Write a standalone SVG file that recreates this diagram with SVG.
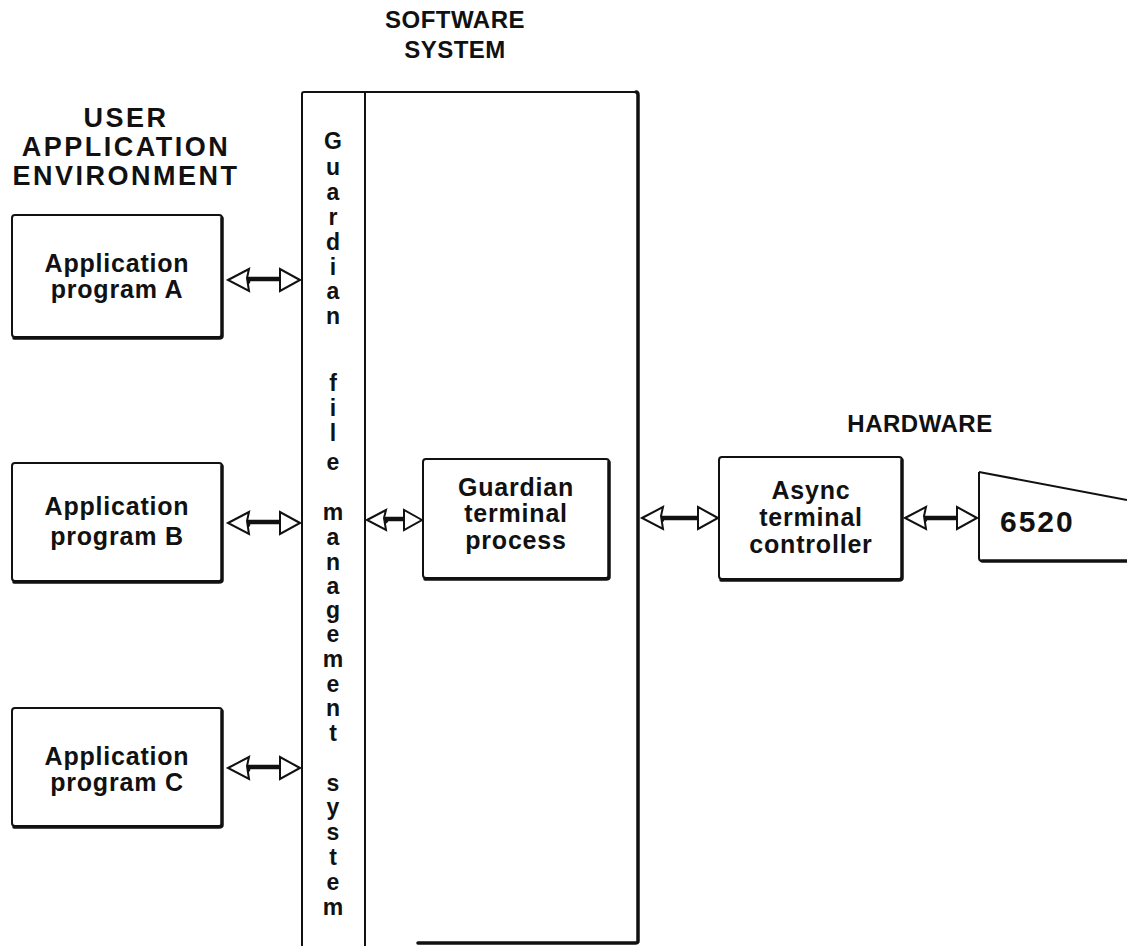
<svg xmlns="http://www.w3.org/2000/svg" width="1127" height="946" viewBox="0 0 1127 946">
<style>
text{font-family:"Liberation Sans",Arial,sans-serif;font-weight:bold;fill:#111}
.h{font-size:24px;letter-spacing:0.5px;text-anchor:middle}
.u{font-size:27px;letter-spacing:2.5px;text-anchor:middle}
.t{font-size:25px;letter-spacing:0.8px;text-anchor:middle}
.v{font-size:23px;text-anchor:middle}
.box{fill:#fff;stroke:#111;stroke-width:2}
.sh{fill:none;stroke:#111;stroke-width:3.5;stroke-linecap:round}
.ln{fill:none;stroke:#111;stroke-width:2}
.head{fill:#fff;stroke:#111;stroke-width:2;stroke-linejoin:miter}
.shaft{fill:none;stroke:#111;stroke-width:4.5;stroke-linejoin:round}
</style>
<rect width="1127" height="946" fill="#fff"/>
<g id="titles">
<text class="h" x="455" y="28">SOFTWARE</text>
<text class="h" x="455" y="58">SYSTEM</text>
<text class="u" x="126" y="127">USER</text>
<text class="u" x="126" y="156">APPLICATION</text>
<text class="u" x="126" y="185">ENVIRONMENT</text>
<text class="h" x="920" y="432">HARDWARE</text>
</g>
<g id="software-system">
<path class="ln" d="M302,946 V94 Q302,92 304,92 H636"/>
<path class="sh" d="M636,92 Q638,92 638,95 V941 Q638,943 635,943 H418"/>
<line class="ln" x1="365" y1="92" x2="365" y2="946"/>
</g>
<g id="guardian-fms">
<text class="v" x="333" y="149">G</text>
<text class="v" x="333" y="175">u</text>
<text class="v" x="333" y="200">a</text>
<text class="v" x="333" y="225">r</text>
<text class="v" x="333" y="250">d</text>
<text class="v" x="333" y="275">i</text>
<text class="v" x="333" y="299">a</text>
<text class="v" x="333" y="324">n</text>
<text class="v" x="333" y="391">f</text>
<text class="v" x="333" y="416">i</text>
<text class="v" x="333" y="441">l</text>
<text class="v" x="333" y="470">e</text>
<text class="v" x="333" y="520">m</text>
<text class="v" x="333" y="545">a</text>
<text class="v" x="333" y="570">n</text>
<text class="v" x="333" y="594">a</text>
<text class="v" x="333" y="618">g</text>
<text class="v" x="333" y="642">e</text>
<text class="v" x="333" y="667">m</text>
<text class="v" x="333" y="692">e</text>
<text class="v" x="333" y="716">n</text>
<text class="v" x="333" y="741">t</text>
<text class="v" x="333" y="791">s</text>
<text class="v" x="333" y="815">y</text>
<text class="v" x="333" y="840">s</text>
<text class="v" x="333" y="865">t</text>
<text class="v" x="333" y="890">e</text>
<text class="v" x="333" y="915">m</text>
</g>
<g id="app-a">
<rect class="box" x="12" y="215" width="210" height="122" rx="3"/>
<path class="sh" d="M222,218 V336 Q222,338 219,338 H14"/>
<text class="t" x="117" y="272">Application</text>
<text class="t" x="117" y="298">program A</text>
</g>
<g id="app-b">
<rect class="box" x="12" y="463" width="210" height="118" rx="3"/>
<path class="sh" d="M222,466 V580 Q222,582 219,582 H14"/>
<text class="t" x="117" y="515">Application</text>
<text class="t" x="117" y="545">program B</text>
</g>
<g id="app-c">
<rect class="box" x="12" y="708" width="210" height="118" rx="3"/>
<path class="sh" d="M222,711 V825 Q222,827 219,827 H14"/>
<text class="t" x="117" y="765">Application</text>
<text class="t" x="117" y="791">program C</text>
</g>
<g id="guardian-terminal-process">
<rect class="box" x="423" y="459" width="186" height="119" rx="3"/>
<path class="sh" d="M609,462 V577 Q609,579 606,579 H425"/>
<text class="t" x="516" y="496">Guardian</text>
<text class="t" x="516" y="522">terminal</text>
<text class="t" x="516" y="549">process</text>
</g>
<g id="async-controller">
<rect class="box" x="719" y="457" width="183" height="122" rx="3"/>
<path class="sh" d="M902,460 V578 Q902,580 899,580 H721"/>
<text class="t" x="811" y="499">Async</text>
<text class="t" x="811" y="526">terminal</text>
<text class="t" x="811" y="553">controller</text>
</g>
<g id="terminal-6520">
<path class="ln" d="M979,472 L1127,500 M979,472 V558 Q979,561 982,561"/>
<path class="sh" d="M982,561 H1127"/>
<text x="1000" y="532" style="font-size:30px;letter-spacing:2px">6520</text>
</g>
<g id="connectors">
<g>
<path class="shaft" d="M245,284 l3,-2 v-3 H283"/>
<polygon class="head" points="228,280 249,269 247,278 249,291"/>
<polygon class="head" points="300,280 280,269 280,291"/>
</g>
<g>
<path class="shaft" d="M245,527 l3,-2 v-3 H283"/>
<polygon class="head" points="228,523 249,512 247,521 249,534"/>
<polygon class="head" points="300,523 280,512 280,534"/>
</g>
<g>
<path class="shaft" d="M245,772 l3,-2 v-3 H283"/>
<polygon class="head" points="228,768 249,757 247,766 249,779"/>
<polygon class="head" points="300,768 280,757 280,779"/>
</g>
<g>
<path class="shaft" d="M383,523 l3,-2 v-2 H406"/>
<polygon class="head" points="367,520 386,510 384,518 386,530"/>
<polygon class="head" points="422,520 404,510 404,530"/>
</g>
<g>
<path class="shaft" d="M659,522 l3,-2 v-2 H701"/>
<polygon class="head" points="642,518 663,507 661,516 663,529"/>
<polygon class="head" points="718,518 698,507 698,529"/>
</g>
<g>
<path class="shaft" d="M922,522 l3,-2 v-2 H960"/>
<polygon class="head" points="905,518 926,507 924,516 926,529"/>
<polygon class="head" points="977,518 957,507 957,529"/>
</g>
</g>
</svg>
